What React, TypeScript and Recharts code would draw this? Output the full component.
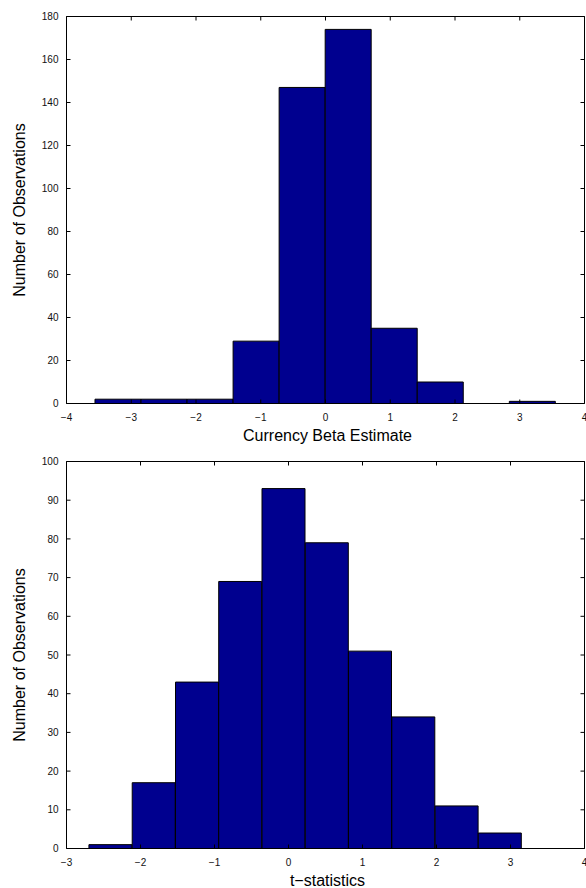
import React from 'react';
import { ComposedChart, Bar, XAxis, YAxis } from 'recharts';

// ---------- Data: Currency Beta Estimate histogram ----------
const betaBinCenters = [-3.2045, -2.4935, -1.7825, -1.0715, -0.3605, 0.3505, 1.0615, 1.7725, 2.4835, 3.1945];
const betaCounts = [2, 2, 2, 29, 147, 174, 35, 10, 0, 1];
const betaXTicks = [-4, -3, -2, -1, 0, 1, 2, 3, 4];
const betaYTicks = [0, 20, 40, 60, 80, 100, 120, 140, 160, 180];
const betaXDomain = [-4, 4];
const betaYDomain = [0, 180];
const betaXLabel = 'Currency Beta Estimate';

// ---------- Data: t-statistics histogram ----------
const tBinCenters = [-2.405, -1.82, -1.235, -0.651, -0.066, 0.519, 1.103, 1.688, 2.273, 2.857];
const tCounts = [1, 17, 43, 69, 93, 79, 51, 34, 11, 4];
const tXTicks = [-3, -2, -1, 0, 1, 2, 3, 4];
const tYTicks = [0, 10, 20, 30, 40, 50, 60, 70, 80, 90, 100];
const tXDomain = [-3, 4];
const tYDomain = [0, 100];
const tXLabel = 't\u2212statistics';

const yLabel = 'Number of Observations';

// ---------- Styles ----------
const FONT = '"Liberation Sans", Arial, Helvetica, sans-serif';
const BAR_FILL = '#00008F';
const TICK_LEN = 4;
const TICK_FONT = 10;
const TITLE_FONT = 16;

const fmt = (v: number) => (v < 0 ? `\u2212${Math.abs(v)}` : String(v));

function BottomTick(props: any) {
  const { x, y, payload } = props;
  return (
    <g>
      <line x1={x} y1={y} x2={x} y2={y - TICK_LEN} stroke="#000" strokeWidth={1} />
      <text x={x} y={y + 17.5} textAnchor="middle" fontSize={TICK_FONT} fontFamily={FONT} fill="#111">
        {fmt(payload.value)}
      </text>
    </g>
  );
}

function TopTick(props: any) {
  const { x, y } = props;
  return <line x1={x} y1={y} x2={x} y2={y + TICK_LEN} stroke="#000" strokeWidth={1} />;
}

function LeftTick(props: any) {
  const { x, y, payload } = props;
  return (
    <g>
      <line x1={x} y1={y} x2={x + TICK_LEN} y2={y} stroke="#000" strokeWidth={1} />
      <text x={x - 8} y={y + 3.6} textAnchor="end" fontSize={TICK_FONT} fontFamily={FONT} fill="#111">
        {fmt(payload.value)}
      </text>
    </g>
  );
}

function RightTick(props: any) {
  const { x, y } = props;
  return <line x1={x} y1={y} x2={x - TICK_LEN} y2={y} stroke="#000" strokeWidth={1} />;
}

function makeXTitle(text: string) {
  return (props: any) => {
    const vb = props.viewBox || {};
    return (
      <text
        x={vb.x + vb.width / 2 + 2}
        y={vb.y + 37.5}
        textAnchor="middle"
        fontSize={TITLE_FONT}
        fontFamily={FONT}
        fill="#000"
      >
        {text}
      </text>
    );
  };
}

function makeYTitle(text: string) {
  return (props: any) => {
    const vb = props.viewBox || {};
    const cx = vb.x + 25;
    const cy = vb.y + vb.height / 2;
    return (
      <text
        x={cx}
        y={cy}
        transform={`rotate(-90 ${cx} ${cy})`}
        textAnchor="middle"
        fontSize={TITLE_FONT}
        fontFamily={FONT}
        fill="#000"
      >
        {text}
      </text>
    );
  };
}

type HistProps = {
  centers: number[];
  counts: number[];
  xTicks: number[];
  yTicks: number[];
  xDomain: number[];
  yDomain: number[];
  xLabel: string;
  plotTop: number;
  xAxisHeight: number;
};

function Histogram({ centers, counts, xTicks, yTicks, xDomain, yDomain, xLabel, plotTop, xAxisHeight }: HistProps) {
  const data = centers.map((c, i) => ({ x: c, count: counts[i] }));
  return (
    <ComposedChart
      width={586}
      height={444}
      data={data}
      margin={{ top: plotTop - 1, right: 0.5, bottom: 0, left: 0 }}
      barCategoryGap={0}
      barGap={0}
    >
      <XAxis
        xAxisId="main"
        dataKey="x"
        type="number"
        domain={xDomain}
        ticks={xTicks}
        interval={0}
        allowDataOverflow
        height={xAxisHeight}
        tickSize={0}
        tickMargin={0}
        tickLine={false}
        axisLine={{ stroke: '#000', strokeWidth: 1 }}
        tick={<BottomTick />}
        label={makeXTitle(xLabel)}
      />
      <XAxis
        xAxisId="top"
        dataKey="x"
        type="number"
        orientation="top"
        domain={xDomain}
        ticks={xTicks}
        interval={0}
        allowDataOverflow
        height={1}
        tickSize={0}
        tickMargin={0}
        tickLine={false}
        axisLine={{ stroke: '#000', strokeWidth: 1 }}
        tick={<TopTick />}
      />
      <YAxis
        yAxisId="main"
        type="number"
        domain={yDomain}
        ticks={yTicks}
        interval={0}
        allowDataOverflow
        width={66.5}
        tickSize={0}
        tickMargin={0}
        tickLine={false}
        axisLine={{ stroke: '#000', strokeWidth: 1 }}
        tick={<LeftTick />}
        label={makeYTitle(yLabel)}
      />
      <YAxis
        yAxisId="right"
        type="number"
        orientation="right"
        domain={yDomain}
        ticks={yTicks}
        interval={0}
        allowDataOverflow
        width={1}
        tickSize={0}
        tickMargin={0}
        tickLine={false}
        axisLine={{ stroke: '#000', strokeWidth: 1 }}
        tick={<RightTick />}
      />
      <Bar
        xAxisId="main"
        yAxisId="main"
        dataKey="count"
        fill={BAR_FILL}
        stroke="#000"
        strokeWidth={1}
        isAnimationActive={false}
      />
    </ComposedChart>
  );
}

export default function App() {
  return (
    <div style={{ position: 'absolute', left: 0, top: 0, width: 586, height: 888, background: '#fff' }}>
      <Histogram
        centers={betaBinCenters}
        counts={betaCounts}
        xTicks={betaXTicks}
        yTicks={betaYTicks}
        xDomain={betaXDomain}
        yDomain={betaYDomain}
        xLabel={betaXLabel}
        plotTop={16.5}
        xAxisHeight={40.5}
      />
      <Histogram
        centers={tBinCenters}
        counts={tCounts}
        xTicks={tXTicks}
        yTicks={tYTicks}
        xDomain={tXDomain}
        yDomain={tYDomain}
        xLabel={tXLabel}
        plotTop={17.5}
        xAxisHeight={39.5}
      />
    </div>
  );
}
